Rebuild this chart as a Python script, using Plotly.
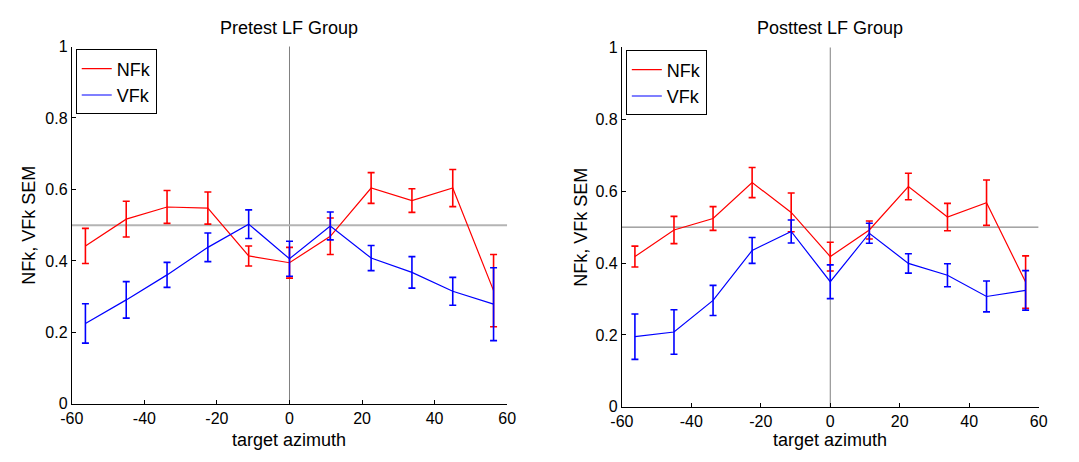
import plotly.graph_objects as go

azimuth = [-56.25, -45, -33.75, -22.5, -11.25, 0, 11.25, 22.5, 33.75, 45, 56.25]

pre_nfk = [0.442, 0.517, 0.551, 0.548, 0.414, 0.395, 0.469, 0.604, 0.569, 0.604, 0.317]
pre_nfk_sem = [0.049, 0.050, 0.046, 0.045, 0.028, 0.043, 0.051, 0.043, 0.033, 0.052, 0.101]
pre_vfk = [0.225, 0.291, 0.361, 0.438, 0.503, 0.406, 0.498, 0.408, 0.368, 0.315, 0.279]
pre_vfk_sem = [0.055, 0.051, 0.035, 0.040, 0.040, 0.049, 0.039, 0.035, 0.044, 0.039, 0.102]

post_nfk = [0.418, 0.492, 0.524, 0.624, 0.541, 0.418, 0.492, 0.613, 0.528, 0.568, 0.347]
post_nfk_sem = [0.029, 0.038, 0.033, 0.042, 0.054, 0.040, 0.025, 0.037, 0.038, 0.063, 0.073]
post_vfk = [0.195, 0.208, 0.296, 0.435, 0.488, 0.348, 0.483, 0.399, 0.366, 0.307, 0.324]
post_vfk_sem = [0.063, 0.062, 0.042, 0.036, 0.032, 0.047, 0.028, 0.027, 0.032, 0.043, 0.055]

titles = ["Pretest LF Group", "Posttest LF Group"]
series_names = ["NFk", "VFk"]
x_ticks = [-60, -40, -20, 0, 20, 40, 60]
x_tick_labels = ["-60", "-40", "-20", "0", "20", "40", "60"]
y_ticks = [0, 0.2, 0.4, 0.6, 0.8, 1]
y_tick_labels = ["0", "0.2", "0.4", "0.6", "0.8", "1"]
x_label = "target azimuth"
y_label = "NFk, VFk SEM"
CHANCE = 0.5
MIDLINE = 0

W, H = 1079, 462
FONT = "Arial, Liberation Sans, sans-serif"
RED = "#ff0000"
BLUE = "#0000ff"

# panel pixel boxes (left, right, top, bottom)
panels = [(61, 505, 40, 411), (622, 1047, 41, 414)]

fig = go.Figure()

data = [
    (pre_nfk, pre_nfk_sem, pre_vfk, pre_vfk_sem),
    (post_nfk, post_nfk_sem, post_vfk, post_vfk_sem),
]

for i, (nfk, nfk_sem, vfk, vfk_sem) in enumerate(data):
    xa = "x" if i == 0 else "x2"
    ya = "y" if i == 0 else "y2"
    lg = "legend" if i == 0 else "legend2"
    for vals, sem, color, name in [(nfk, nfk_sem, RED, series_names[0]),
                                   (vfk, vfk_sem, BLUE, series_names[1])]:
        fig.add_trace(go.Scatter(
            x=azimuth, y=vals, mode="lines", name=name,
            line=dict(color=color, width=1.2),
            error_y=dict(type="data", array=sem, visible=True,
                         color=color, thickness=1.6, width=3.5),
            xaxis=xa, yaxis=ya, legend=lg, showlegend=True,
        ))

layout = dict(
    width=W, height=H, autosize=False,
    margin=dict(l=0, r=0, t=0, b=0),
    paper_bgcolor="white", plot_bgcolor="white",
    font=dict(family=FONT, size=16, color="black"),
    showlegend=True,
)

annotations = []
shapes = []
for i, (l, r, t, b) in enumerate(panels):
    sfx = "" if i == 0 else "2"
    xdom = [l / W, r / W]
    ydom = [1 - b / H, 1 - t / H]
    layout["xaxis" + sfx] = dict(
        domain=xdom, range=[-60, 60], tickvals=x_ticks, ticktext=x_tick_labels,
        ticks="inside", ticklen=4, tickcolor="black", tickwidth=1,
        showline=True, linecolor="black", linewidth=1, mirror=False,
        showgrid=False, zeroline=False, anchor="y" + sfx,
        ticklabelstandoff=0,
        tickfont=dict(size=16, family=FONT, color="black"),
    )
    layout["yaxis" + sfx] = dict(
        domain=ydom, range=[0, 1], tickvals=y_ticks, ticktext=y_tick_labels,
        ticks="inside", ticklen=4, tickcolor="black", tickwidth=1,
        showline=True, linecolor="black", linewidth=1, mirror=False,
        showgrid=False, zeroline=False, anchor="x" + sfx,
        tickfont=dict(size=16, family=FONT, color="black"),
    )
    # reference lines
    hcol = "#b4b4b4" if i == 0 else "#707070"
    hw = 2 if i == 0 else 1
    shapes.append(dict(type="line", xref="x" + sfx, yref="y" + sfx,
                       x0=-60, x1=60, y0=CHANCE, y1=CHANCE,
                       line=dict(color=hcol, width=hw), layer="below"))
    shapes.append(dict(type="line", xref="x" + sfx, yref="y" + sfx + " domain",
                       x0=MIDLINE, x1=MIDLINE, y0=0, y1=1,
                       line=dict(color="#808080", width=1), layer="below"))
    cx = (l + r) / 2 / W
    annotations.append(dict(text=titles[i], x=cx, y=1 - 21 / H, xref="paper", yref="paper",
                            xanchor="center", yanchor="middle", showarrow=False,
                            font=dict(size=18, family=FONT, color="black")))
    annotations.append(dict(text=x_label, x=cx, y=1 - 448 / H, xref="paper", yref="paper",
                            xanchor="center", yanchor="middle", showarrow=False,
                            font=dict(size=18, family=FONT, color="black")))
    ylx = 18 if i == 0 else 580
    annotations.append(dict(text=y_label, x=ylx / W, y=1 - ((t + b) / 2) / H,
                            xref="paper", yref="paper", textangle=-90,
                            xanchor="center", yanchor="middle", showarrow=False,
                            font=dict(size=18, family=FONT, color="black")))
    layout["legend" + sfx] = dict(
        x=(l + 4) / W, y=1 - (t + 3) / H, xanchor="left", yanchor="top",
        xref="paper", yref="paper",
        bordercolor="black", borderwidth=1, bgcolor="white",
        font=dict(size=18, family=FONT, color="black"),
        itemwidth=30, tracegroupgap=0,
    )

layout["annotations"] = annotations
layout["shapes"] = shapes
fig.update_layout(**layout)
fig.write_html("out.html")
